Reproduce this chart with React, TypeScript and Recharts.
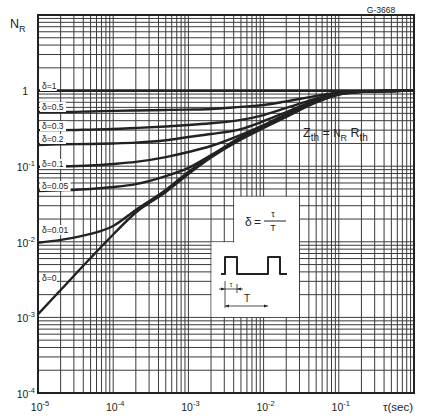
import React from "react";
import { LineChart, Line, XAxis, YAxis, CartesianGrid } from "recharts";

// pulse duration tau (sec)
const tau = [1e-5, 2e-5, 5e-5, 1e-4, 2e-4, 5e-4, 1e-3, 2e-3, 5e-3, 1e-2, 2e-2, 5e-2, 1e-1, 2e-1, 5e-1, 1];
// N_R for each duty cycle delta
const nrDelta1 = [1, 1, 1, 1, 1, 1, 1, 1, 1, 1, 1, 1, 1, 1, 1, 1];
const nrDelta05 = [0.52, 0.52, 0.53, 0.54, 0.545, 0.555, 0.56, 0.57, 0.61, 0.645, 0.72, 0.85, 0.945, 0.975, 0.99, 1];
const nrDelta03 = [0.3, 0.3, 0.305, 0.31, 0.32, 0.335, 0.35, 0.37, 0.41, 0.475, 0.59, 0.785, 0.93, 0.975, 0.99, 1];
const nrDelta02 = [0.19, 0.195, 0.197, 0.2, 0.205, 0.22, 0.243, 0.267, 0.31, 0.395, 0.52, 0.75, 0.915, 0.967, 0.99, 1];
const nrDelta01 = [0.098, 0.099, 0.102, 0.107, 0.114, 0.132, 0.154, 0.185, 0.26, 0.35, 0.49, 0.73, 0.9, 0.967, 0.99, 1];
const nrDelta005 = [0.047, 0.048, 0.05, 0.053, 0.058, 0.074, 0.095, 0.14, 0.243, 0.34, 0.476, 0.718, 0.896, 0.964, 0.99, 1];
const nrDelta001 = [0.0097, 0.0106, 0.0127, 0.0162, 0.0264, 0.0484, 0.084, 0.136, 0.2325, 0.33, 0.46, 0.707, 0.89, 0.964, 0.99, 1];
const nrDelta0 = [0.0011, 0.0023, 0.0061, 0.0125, 0.0244, 0.0456, 0.0788, 0.13, 0.2255, 0.32, 0.448, 0.696, 0.885, 0.961, 0.99, 1];

const seriesKeys = ["d1", "d05", "d03", "d02", "d01", "d005", "d001", "d0"];
const seriesValues = [nrDelta1, nrDelta05, nrDelta03, nrDelta02, nrDelta01, nrDelta005, nrDelta001, nrDelta0];
const curveLabels = ["δ=1", "δ=0.5", "δ=0.3", "δ=0.2", "δ=0.1", "δ=0.05", "δ=0.01", "δ=0"];
const labelY = [86, 107, 126, 139, 164, 186, 230, 278];

const xDecades = [-5, -4, -3, -2, -1];
const yDecades = [-4, -3, -2, -1, 0];
const mult = [1, 2, 3, 4, 5, 6, 7, 8, 9];

const xTicks = [...xDecades.flatMap((e) => mult.map((m) => m * Math.pow(10, e))), 1];
const yTicks = [...yDecades.flatMap((e) => mult.map((m) => m * Math.pow(10, e))), 10];

const data = tau.map((t, i) => {
  const row: any = { t };
  seriesKeys.forEach((k, j) => (row[k] = seriesValues[j][i]));
  return row;
});

const W = 423;
const H = 418;
const X0 = 38, X1 = 414, Y0 = 15, Y1 = 393;
const px = (t: number) => X0 + ((Math.log10(t) + 5) / 5) * (X1 - X0);
const py = (v: number) => Y0 + ((1 - Math.log10(v)) / 5) * (Y1 - Y0);

const FONT = "'Liberation Sans', Arial, sans-serif";
const INK = "#222";

const isDecade = (v: number) => Math.abs(Math.log10(v) - Math.round(Math.log10(v))) < 1e-6;

const XTick = (props: any) => {
  const { x, y, payload } = props;
  const v = payload.value;
  if (!isDecade(v)) return <g />;
  const e = Math.round(Math.log10(v));
  if (e === 0) {
    return (
      <text x={x - 1} y={y + 18} textAnchor="end" fontSize={11.5} fontFamily={FONT} fill={INK}>
        τ(sec)
      </text>
    );
  }
  return (
    <text x={x + 2} y={y + 18} textAnchor="middle" fontFamily={FONT} fill={INK}>
      <tspan fontSize={10.5}>10</tspan>
      <tspan fontSize={7.5} dy={-5}>{e}</tspan>
    </text>
  );
};

const YTick = (props: any) => {
  const { x, y, payload } = props;
  const v = payload.value;
  if (!isDecade(v)) return <g />;
  const e = Math.round(Math.log10(v));
  if (e > 0) return <g />;
  if (e === 0) {
    return (
      <text x={x - 8} y={y + 4} textAnchor="end" fontSize={10.5} fontFamily={FONT} fill={INK}>
        1
      </text>
    );
  }
  return (
    <text x={x - 1} y={y + 5} textAnchor="end" fontFamily={FONT} fill={INK}>
      <tspan fontSize={10.5}>10</tspan>
      <tspan fontSize={7.5} dy={-5}>{e}</tspan>
    </text>
  );
};

export default function App() {
  // inset white box bounded by grid lines
  const bx0 = px(2e-3) + 0.5, bx1 = px(4e-3) + 0.5, bx2 = px(0.03) - 0.5;
  const by0 = py(0.04) + 0.5, by1 = py(0.01) + 0.5, by2 = py(1e-3) - 0.5;
  const boxPath = `M${bx1},${by0} L${bx2},${by0} L${bx2},${by2} L${bx0},${by2} L${bx0},${by1} L${bx1},${by1} Z`;

  return (
    <div style={{ position: "absolute", left: 0, top: 0, width: W, height: H, background: "#fff" }}>
      <LineChart width={W} height={H} data={data} margin={{ top: Y0, right: W - X1, bottom: 0, left: 0 }}>
        <CartesianGrid stroke="#3a3a3a" strokeWidth={1} />
        <XAxis
          dataKey="t"
          type="number"
          scale="log"
          domain={[1e-5, 1]}
          allowDataOverflow
          ticks={xTicks}
          interval={0}
          tick={<XTick />}
          tickLine={false}
          axisLine={false}
          tickSize={0}
          tickMargin={0}
          height={H - Y1}
        />
        <YAxis
          type="number"
          scale="log"
          domain={[1e-4, 10]}
          allowDataOverflow
          ticks={yTicks}
          interval={0}
          tick={<YTick />}
          tickLine={false}
          axisLine={false}
          tickSize={0}
          tickMargin={2}
          width={X0}
        />
        {seriesKeys.map((k) => (
          <Line
            key={k}
            dataKey={k}
            type="monotone"
            stroke="#222"
            strokeWidth={k === "d1" ? 2.8 : 2.4}
            dot={false}
            isAnimationActive={false}
          />
        ))}
      </LineChart>
      <svg
        width={W}
        height={H}
        style={{ position: "absolute", left: 0, top: 0, pointerEvents: "none" }}
        fontFamily={FONT}
      >
        <path d={boxPath} fill="#fff" />
        <rect x={X0} y={Y0} width={X1 - X0} height={Y1 - Y0} fill="none" stroke={INK} strokeWidth={2} />

        {curveLabels.map((s, i) => (
          <g key={s}>
            <rect x={40} y={labelY[i] - 5} width={s.length * 4.6 + 3} height={10} fill="#fff" />
            <text x={42} y={labelY[i] + 3} fontSize={8.5} fill={INK}>
              {s}
            </text>
          </g>
        ))}

        <text x={10} y={28} fontSize={12.5} fill={INK}>
          N<tspan fontSize={9} dy={4}>R</tspan>
        </text>
        <text x={381} y={13} fontSize={8.5} textAnchor="middle" fill={INK}>
          G-3668
        </text>
        <text x={303} y={137} fontSize={12.5} fill={INK}>
          Z<tspan fontSize={10} dy={4}>th</tspan>
          <tspan dy={-4}> = </tspan>
          <tspan fontSize={10}>N</tspan>
          <tspan fontSize={9} dy={4}>R</tspan>
          <tspan dy={-4}> R</tspan>
          <tspan fontSize={10} dy={4}>th</tspan>
        </text>

        {/* inset: duty cycle definition */}
        <text x={245} y={226} fontSize={12} fill={INK}>δ</text>
        <text x={254} y={226} fontSize={12} fill={INK}>=</text>
        <line x1={264} y1={221} x2={286} y2={221} stroke={INK} strokeWidth={1} />
        <text x={273} y={217} fontSize={9} textAnchor="middle" fill={INK}>τ</text>
        <text x={273} y={231} fontSize={9} textAnchor="middle" fill={INK}>T</text>
        <path
          d="M221,274 L225,274 L225,257 L237,257 L237,274 L268,274 L268,257 L280,257 L280,274 L287,274"
          fill="none"
          stroke={INK}
          strokeWidth={2}
          strokeLinejoin="round"
        />
        <line x1={225} y1={281} x2={225} y2={308} stroke={INK} strokeWidth={0.8} />
        <line x1={237} y1={284} x2={237} y2={293} stroke={INK} strokeWidth={0.8} />
        <line x1={219} y1={289} x2={243} y2={289} stroke={INK} strokeWidth={0.8} />
        <path d="M225,289 L221,287.5 L221,290.5 Z M237,289 L241,287.5 L241,290.5 Z" fill={INK} />
        <text x={231} y={287} fontSize={6.5} textAnchor="middle" fill={INK}>τ</text>
        <line x1={225} y1={306} x2={268} y2={306} stroke={INK} strokeWidth={0.8} />
        <path d="M225,306 L229,304.5 L229,307.5 Z M268,306 L264,304.5 L264,307.5 Z" fill={INK} />
        <text x={247} y={302} fontSize={10} textAnchor="middle" fill={INK}>T</text>
      </svg>
    </div>
  );
}
